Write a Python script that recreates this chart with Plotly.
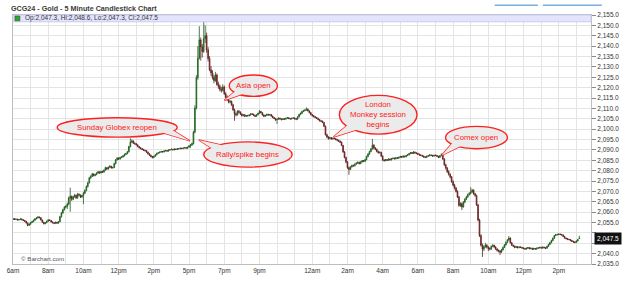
import numpy as np
import pandas as pd
import plotly.graph_objects as go

# ---------------- data (5-minute bars, GCG24) ----------------
opens = [
 2056.5,2056.8,2056.5,2056.6,2056.2,2056.4,2056.7,2056.3,2056.0,2055.6,2054.8,2053.6,
 2054.2,2055.0,2055.4,2056.1,2056.8,2057.2,2057.6,2057.3,2056.2,2055.1,2054.4,2054.9,
 2055.6,2056.2,2056.0,2055.3,2054.9,2054.6,2055.1,2054.7,2055.4,2057.8,2059.6,2061.2,
 2062.4,2062.7,2063.9,2066.8,2067.6,2066.2,2067.4,2068.1,2066.9,2068.6,2068.2,2067.3,
 2068.0,2069.1,2070.4,2072.3,2074.1,2076.5,2077.2,2078.4,2077.6,2078.1,2078.8,2079.4,
 2078.9,2079.6,2079.3,2080.2,2081.4,2080.8,2081.6,2082.1,2081.3,2081.5,2083.4,2085.2,
 2086.0,2085.6,2086.3,2086.6,2087.1,2087.8,2088.2,2089.1,2091.6,2093.8,2094.3,2093.2,
 2093.0,2092.4,2091.6,2091.0,2090.6,2090.2,2089.8,2089.6,2088.9,2088.1,2087.4,2086.8,
 2086.3,2086.9,2087.6,2088.3,2088.6,2088.9,2089.2,2089.0,2089.5,2089.7,2089.4,2089.9,
 2090.1,2090.3,2090.0,2090.4,2090.2,2090.6,2090.5,2090.8,2090.6,2090.9,2091.1,2090.8,
 2091.4,2091.8,2092.4,2093.0,2098.5,2110.2,2124.8,2134.2,2143.0,2139.6,2137.4,2143.6,
 2145.0,2138.2,2134.0,2128.6,2127.1,2125.0,2123.4,2126.1,2121.5,2120.6,2119.2,2118.7,
 2120.3,2117.1,2115.4,2114.2,2113.0,2113.3,2111.7,2109.3,2107.4,2106.9,2108.6,2108.1,
 2107.3,2106.5,2106.9,2106.2,2106.5,2106.4,2106.8,2107.3,2107.2,2106.6,2106.2,2106.9,
 2107.6,2108.5,2107.9,2106.8,2106.2,2106.6,2107.1,2106.8,2107.0,2106.3,2105.6,2105.1,
 2104.6,2104.8,2105.3,2104.9,2104.6,2105.0,2104.8,2105.2,2105.5,2105.1,2104.9,2105.2,
 2105.4,2105.0,2104.8,2105.9,2107.0,2107.6,2108.5,2108.9,2109.2,2109.6,2108.8,2107.9,
 2107.0,2106.4,2106.0,2105.6,2105.2,2104.6,2104.0,2103.8,2103.2,2101.4,2097.3,2096.2,
 2095.5,2095.9,2095.3,2095.6,2095.4,2095.0,2094.6,2094.2,2093.7,2092.1,2089.0,2086.3,
 2084.2,2081.4,2080.6,2081.8,2082.5,2082.3,2083.1,2083.6,2084.0,2083.4,2084.2,2084.8,
 2084.5,2085.3,2086.8,2088.0,2089.2,2090.4,2092.3,2090.9,2090.2,2089.2,2088.6,2088.8,
 2087.0,2085.1,2084.8,2085.3,2085.0,2085.6,2085.2,2085.8,2086.0,2085.7,2086.2,2086.0,
 2086.4,2086.8,2086.5,2087.0,2086.7,2087.3,2087.6,2088.2,2088.7,2088.3,2088.9,2088.5,
 2088.3,2087.9,2087.5,2087.3,2087.0,2086.6,2086.4,2086.9,2087.2,2087.5,2087.3,2087.0,
 2087.4,2087.3,2086.9,2086.4,2087.2,2087.8,2085.6,2082.8,2081.3,2079.5,2078.2,2077.0,
 2074.7,2073.0,2071.6,2070.0,2067.3,2063.2,2064.1,2062.5,2064.8,2066.2,2067.3,2068.4,
 2069.0,2069.7,2070.6,2068.8,2068.0,2063.5,2056.2,2048.7,2044.0,2042.2,2043.4,2044.0,
 2043.1,2042.5,2042.2,2043.5,2044.0,2043.2,2042.2,2041.6,2041.3,2040.7,2041.8,2043.0,
 2044.2,2045.4,2046.6,2047.5,2045.2,2044.0,2043.6,2043.0,2043.3,2042.9,2043.2,2043.0,
 2042.7,2042.5,2042.2,2042.6,2042.9,2042.4,2042.6,2042.1,2042.5,2042.2,2042.6,2042.8,
 2043.0,2042.7,2043.1,2042.8,2042.6,2043.5,2044.4,2045.3,2046.3,2047.4,2048.7,2049.1,
 2049.2,2049.4,2049.2,2049.0,2048.3,2047.5,2047.2,2046.9,2046.8,2046.3,2045.9,2045.6,
 2045.4,2046.1,2047.3]

highs = [
 2057.2,2057.0,2056.9,2056.8,2056.6,2057.0,2056.9,2056.5,2056.2,2055.8,2055.0,2054.6,
 2055.3,2055.8,2056.4,2057.1,2057.6,2058.1,2057.9,2057.5,2056.4,2055.3,2055.2,2055.9,
 2056.6,2056.5,2056.1,2055.5,2055.1,2055.4,2055.3,2055.7,2058.2,2060.1,2061.6,2062.9,
 2063.4,2064.6,2067.5,2071.8,2068.0,2067.9,2068.8,2068.4,2069.2,2069.0,2068.5,2068.4,
 2069.8,2071.0,2072.9,2074.6,2077.0,2077.8,2078.9,2078.6,2078.5,2079.3,2079.9,2079.6,
 2080.0,2079.9,2080.6,2081.9,2081.7,2082.0,2082.6,2082.3,2081.9,2083.8,2085.6,2086.5,
 2086.4,2086.7,2087.0,2087.5,2088.2,2088.6,2089.5,2092.0,2095.6,2095.0,2094.6,2093.6,
 2093.3,2092.7,2091.9,2091.3,2090.9,2090.5,2090.1,2089.9,2089.2,2088.4,2087.7,2087.1,
 2087.2,2087.9,2088.6,2088.9,2089.2,2089.5,2089.4,2089.8,2090.0,2089.9,2090.2,2090.4,
 2090.6,2090.5,2090.7,2090.6,2090.9,2090.8,2091.1,2091.0,2091.2,2091.4,2091.3,2091.6,
 2092.3,2092.8,2093.6,2099.2,2111.5,2126.0,2140.0,2149.6,2144.2,2141.0,2152.0,2150.0,
 2146.5,2139.5,2135.2,2130.4,2128.4,2126.2,2127.6,2126.8,2122.8,2121.5,2120.4,2121.6,
 2121.0,2117.8,2116.3,2114.8,2114.1,2113.8,2112.2,2109.9,2108.0,2109.1,2109.2,2108.6,
 2107.6,2107.2,2107.1,2106.8,2106.9,2107.1,2107.6,2107.7,2107.4,2106.9,2107.2,2107.9,
 2109.2,2108.8,2108.1,2107.1,2106.9,2107.4,2107.4,2107.3,2107.2,2106.5,2105.9,2105.4,
 2105.1,2105.6,2105.5,2105.1,2105.3,2105.2,2105.5,2105.8,2105.7,2105.3,2105.5,2105.7,
 2105.7,2105.3,2106.2,2107.4,2108.0,2108.9,2109.3,2109.6,2110.5,2109.9,2109.0,2108.2,
 2107.3,2106.8,2106.3,2105.9,2105.5,2104.9,2104.3,2104.1,2103.5,2101.7,2097.8,2096.6,
 2096.3,2096.2,2095.9,2095.9,2095.7,2095.3,2094.9,2094.5,2094.0,2092.4,2089.4,2086.7,
 2084.6,2082.0,2082.2,2082.9,2082.9,2083.5,2084.0,2084.4,2084.3,2084.6,2085.2,2085.1,
 2085.7,2087.2,2088.4,2089.6,2090.9,2095.3,2092.7,2091.3,2090.6,2089.6,2089.3,2089.1,
 2087.3,2085.5,2085.6,2085.6,2085.9,2085.9,2086.1,2086.3,2086.3,2086.5,2086.5,2086.7,
 2087.1,2087.1,2087.3,2087.2,2087.6,2087.9,2088.5,2089.0,2089.0,2089.4,2089.2,2088.8,
 2088.6,2088.2,2087.8,2087.6,2087.3,2086.9,2087.2,2087.5,2087.9,2087.8,2087.6,2087.7,
 2087.7,2087.6,2087.2,2087.5,2088.3,2088.1,2086.0,2083.3,2081.7,2080.2,2078.7,2077.4,
 2075.3,2073.6,2072.1,2070.5,2067.8,2064.8,2064.6,2065.3,2066.7,2067.8,2068.9,2069.6,
 2072.0,2071.2,2071.0,2069.3,2068.4,2064.0,2056.8,2049.3,2044.9,2044.0,2045.2,2044.6,
 2043.6,2043.0,2043.9,2044.5,2044.3,2043.6,2042.6,2042.0,2041.6,2042.3,2043.4,2044.6,
 2045.8,2047.0,2048.5,2047.8,2045.6,2044.3,2043.9,2043.7,2043.6,2043.5,2043.5,2043.2,
 2043.0,2042.8,2042.9,2043.2,2043.1,2042.9,2042.8,2042.8,2042.7,2042.9,2043.1,2043.3,
 2043.3,2043.4,2043.4,2043.1,2043.8,2044.7,2045.7,2046.7,2047.8,2049.0,2049.5,2049.6,
 2049.8,2049.7,2049.5,2049.2,2048.5,2047.8,2047.5,2047.2,2047.0,2046.6,2046.2,2045.9,
 2046.4,2047.1,2048.6]

lows = [
 2056.2,2056.3,2056.2,2056.0,2056.0,2056.2,2056.1,2055.8,2055.3,2054.5,2053.2,2053.4,
 2053.9,2054.7,2055.2,2055.9,2056.5,2057.0,2057.0,2056.0,2054.9,2054.1,2054.2,2054.7,
 2055.3,2055.7,2055.0,2054.6,2054.2,2054.4,2054.3,2054.5,2055.2,2057.4,2059.2,2060.8,
 2061.9,2061.5,2063.4,2060.2,2065.4,2065.8,2067.0,2066.3,2066.5,2067.8,2066.8,2066.9,
 2063.8,2068.7,2070.1,2071.9,2073.8,2076.1,2076.9,2077.2,2077.3,2077.8,2078.5,2078.5,
 2078.6,2078.9,2079.0,2080.0,2080.4,2080.5,2081.3,2081.0,2081.0,2081.2,2083.0,2084.9,
 2085.2,2085.3,2086.0,2086.3,2086.8,2087.5,2087.9,2088.8,2091.2,2093.3,2092.8,2092.5,
 2092.1,2091.3,2090.7,2090.3,2089.9,2089.5,2089.3,2088.6,2087.8,2087.1,2086.4,2085.9,
 2086.0,2086.7,2087.4,2088.1,2088.4,2088.7,2088.8,2088.8,2089.3,2089.1,2089.2,2089.7,
 2089.9,2089.8,2089.8,2090.0,2090.0,2090.3,2090.3,2090.4,2090.4,2090.7,2090.6,2090.6,
 2090.9,2091.0,2091.9,2092.6,2098.0,2109.5,2123.8,2133.6,2133.0,2134.5,2136.8,2141.5,
 2136.8,2132.6,2127.9,2125.6,2123.9,2122.1,2122.8,2120.9,2119.4,2118.2,2117.6,2118.1,
 2116.5,2114.8,2113.6,2112.4,2112.5,2111.2,2108.8,2104.0,2106.1,2106.5,2107.6,2106.8,
 2106.1,2106.2,2105.8,2105.9,2106.1,2106.2,2106.5,2106.9,2106.3,2105.8,2106.0,2106.7,
 2107.3,2107.6,2106.5,2105.8,2105.9,2106.3,2106.5,2106.5,2106.0,2105.3,2104.8,2103.9,
 2102.5,2104.5,2104.6,2104.2,2104.4,2104.5,2104.6,2105.0,2104.8,2104.6,2104.7,2105.0,
 2104.7,2104.3,2104.6,2105.6,2106.7,2107.3,2108.2,2108.6,2108.9,2108.5,2107.6,2106.7,
 2106.1,2105.7,2105.3,2104.9,2104.3,2103.7,2103.4,2102.9,2101.0,2096.9,2095.6,2094.9,
 2095.1,2094.9,2095.0,2095.1,2094.6,2094.2,2093.8,2093.3,2091.8,2088.6,2085.9,2083.5,
 2080.9,2078.0,2080.3,2081.5,2081.9,2082.0,2082.8,2083.3,2083.0,2083.1,2083.9,2084.1,
 2084.2,2085.0,2086.5,2087.7,2088.9,2090.1,2090.4,2089.9,2088.8,2088.2,2088.3,2086.6,
 2084.7,2084.4,2084.5,2084.7,2084.7,2084.9,2084.9,2085.5,2085.4,2085.4,2085.7,2085.7,
 2086.1,2086.2,2086.2,2086.4,2086.4,2087.0,2087.3,2087.9,2088.0,2088.0,2088.2,2087.9,
 2087.6,2087.2,2087.0,2086.7,2086.2,2086.0,2086.1,2086.6,2086.9,2087.0,2086.7,2086.7,
 2087.0,2086.6,2086.0,2086.2,2086.9,2085.2,2082.3,2080.5,2078.9,2077.6,2076.2,2074.1,
 2072.4,2070.9,2069.4,2066.8,2062.6,2062.5,2061.0,2062.2,2064.3,2065.8,2066.9,2068.0,
 2068.6,2069.3,2068.3,2067.4,2063.0,2055.6,2048.0,2043.4,2038.4,2041.2,2042.8,2042.5,
 2041.2,2041.6,2041.8,2043.1,2042.8,2041.8,2041.0,2040.6,2039.3,2040.3,2041.5,2042.7,
 2043.9,2045.1,2046.2,2044.9,2043.7,2043.3,2042.6,2042.8,2042.5,2042.6,2042.7,2042.3,
 2042.1,2041.9,2041.9,2042.3,2042.1,2042.1,2041.8,2041.9,2041.9,2041.9,2042.3,2042.5,
 2042.4,2042.4,2042.5,2042.2,2042.4,2043.2,2044.1,2045.0,2046.0,2047.1,2048.4,2048.8,
 2048.9,2048.9,2048.7,2048.0,2047.2,2046.9,2046.5,2046.4,2046.0,2045.6,2045.2,2045.0,
 2045.1,2045.9,2047.3]

closes = [
 2056.8,2056.5,2056.6,2056.2,2056.4,2056.7,2056.3,2056.0,2055.6,2054.8,2053.6,2054.2,
 2055.0,2055.4,2056.1,2056.8,2057.2,2057.6,2057.3,2056.2,2055.1,2054.4,2054.9,2055.6,
 2056.2,2056.0,2055.3,2054.9,2054.6,2055.1,2054.7,2055.4,2057.8,2059.6,2061.2,2062.4,
 2062.7,2063.9,2066.8,2067.6,2066.2,2067.4,2068.1,2066.9,2068.6,2068.2,2067.3,2068.0,
 2069.1,2070.4,2072.3,2074.1,2076.5,2077.2,2078.4,2077.6,2078.1,2078.8,2079.4,2078.9,
 2079.6,2079.3,2080.2,2081.4,2080.8,2081.6,2082.1,2081.3,2081.5,2083.4,2085.2,2086.0,
 2085.6,2086.3,2086.6,2087.1,2087.8,2088.2,2089.1,2091.6,2093.8,2094.3,2093.2,2093.0,
 2092.4,2091.6,2091.0,2090.6,2090.2,2089.8,2089.6,2088.9,2088.1,2087.4,2086.8,2086.3,
 2086.9,2087.6,2088.3,2088.6,2088.9,2089.2,2089.0,2089.5,2089.7,2089.4,2089.9,2090.1,
 2090.3,2090.0,2090.4,2090.2,2090.6,2090.5,2090.8,2090.6,2090.9,2091.1,2090.8,2091.2,
 2091.8,2092.4,2093.0,2098.5,2110.2,2124.8,2134.2,2143.0,2139.6,2137.4,2143.6,2145.0,
 2138.2,2134.0,2128.6,2127.1,2125.0,2123.4,2126.1,2121.5,2120.6,2119.2,2118.7,2120.3,
 2117.1,2115.4,2114.2,2113.0,2113.3,2111.7,2109.3,2107.4,2106.9,2108.6,2108.1,2107.3,
 2106.5,2106.9,2106.2,2106.5,2106.4,2106.8,2107.3,2107.2,2106.6,2106.2,2106.9,2107.6,
 2108.5,2107.9,2106.8,2106.2,2106.6,2107.1,2106.8,2107.0,2106.3,2105.6,2105.1,2104.6,
 2104.8,2105.3,2104.9,2104.6,2105.0,2104.8,2105.2,2105.5,2105.1,2104.9,2105.2,2105.4,
 2105.0,2104.8,2105.9,2107.0,2107.6,2108.5,2108.9,2109.2,2109.6,2108.8,2107.9,2107.0,
 2106.4,2106.0,2105.6,2105.2,2104.6,2104.0,2103.8,2103.2,2101.4,2097.3,2096.2,2095.5,
 2095.9,2095.3,2095.6,2095.4,2095.0,2094.6,2094.2,2093.7,2092.1,2089.0,2086.3,2084.2,
 2081.4,2080.6,2081.8,2082.5,2082.3,2083.1,2083.6,2084.0,2083.4,2084.2,2084.8,2084.5,
 2085.3,2086.8,2088.0,2089.2,2090.4,2092.3,2090.9,2090.2,2089.2,2088.6,2088.8,2087.0,
 2085.1,2084.8,2085.3,2085.0,2085.6,2085.2,2085.8,2086.0,2085.7,2086.2,2086.0,2086.4,
 2086.8,2086.5,2087.0,2086.7,2087.3,2087.6,2088.2,2088.7,2088.3,2088.9,2088.5,2088.3,
 2087.9,2087.5,2087.3,2087.0,2086.6,2086.4,2086.9,2087.2,2087.5,2087.3,2087.0,2087.4,
 2087.3,2086.9,2086.4,2087.2,2087.8,2085.6,2082.8,2081.3,2079.5,2078.2,2077.0,2074.7,
 2073.0,2071.6,2070.0,2067.3,2063.2,2064.1,2062.5,2064.8,2066.2,2067.3,2068.4,2069.0,
 2069.7,2070.6,2068.8,2068.0,2063.5,2056.2,2048.7,2044.0,2042.2,2043.4,2044.0,2043.1,
 2042.5,2042.2,2043.5,2044.0,2043.2,2042.2,2041.6,2041.3,2040.7,2041.8,2043.0,2044.2,
 2045.4,2046.6,2047.5,2045.2,2044.0,2043.6,2043.0,2043.3,2042.9,2043.2,2043.0,2042.7,
 2042.5,2042.2,2042.6,2042.9,2042.4,2042.6,2042.1,2042.5,2042.2,2042.6,2042.8,2043.0,
 2042.7,2043.1,2042.8,2042.6,2043.5,2044.4,2045.3,2046.3,2047.4,2048.7,2049.1,2049.2,
 2049.4,2049.2,2049.0,2048.3,2047.5,2047.2,2046.9,2046.8,2046.3,2045.9,2045.6,2045.4,
 2046.1,2046.8,2047.5]

# session timeline: Friday 06:00-15:55, then Sunday 17:00 onward (5-min bars)
friday = pd.date_range("2023-12-01 06:00", periods=120, freq="5min")
sunday = pd.date_range("2023-12-03 17:00", periods=len(closes) - 120, freq="5min")
times = friday.append(sunday)

tick_times = ["2023-12-01 06:00", "2023-12-01 08:00", "2023-12-01 10:00", "2023-12-01 12:00",
              "2023-12-01 14:00", "2023-12-03 17:00", "2023-12-03 19:00", "2023-12-03 21:00",
              "2023-12-04 00:00", "2023-12-04 02:00", "2023-12-04 04:00", "2023-12-04 06:00",
              "2023-12-04 08:00", "2023-12-04 10:00", "2023-12-04 12:00", "2023-12-04 14:00"]
tick_labels = ["6am", "8am", "10am", "12pm", "2pm", "5pm", "7pm", "9pm",
               "12am", "2am", "4am", "6am", "8am", "10am", "12pm", "2pm"]

price_ticks = list(range(2035, 2156, 5))

callouts = [
    "Sunday Globex reopen",
    "Rally/spike begins",
    "Asia open",
    "London<br>Monkey session<br>begins",
    "Comex open",
]

x_idx = np.arange(len(closes))
tickvals = [int(times.get_loc(pd.Timestamp(t))) for t in tick_times]

# ---------------- geometry helpers ----------------
W_, H_ = 626, 282
ML, MR, MT, MB = 7, 31, 15, 10
PW, PH = W_ - ML - MR, H_ - MT - MB

def fx(px):
    return (px - ML) / PW

def fy(py):
    return (H_ - MB - py) / PH

RED = "#ff2020"
FONT = "Liberation Sans, Arial, sans-serif"

last = closes[-1]
# y tick labels: the ones hidden behind the last-price tag are left blank
ytext = ["" if abs(v - last) < 4 else f"{v:,.1f}" for v in price_ticks]

fig = go.Figure()
fig.add_trace(go.Candlestick(
    x=x_idx, open=opens, high=highs, low=lows, close=closes,
    increasing=dict(line=dict(color="#1d5a1d", width=0.8), fillcolor="#22a822"),
    decreasing=dict(line=dict(color="#5a1e1e", width=0.8), fillcolor="#d02020"),
    whiskerwidth=0, hoverinfo="skip", showlegend=False,
))

shapes = []
annotations = []

# legend band at top of plot
shapes.append(dict(type="rect", xref="paper", yref="paper", x0=0, x1=1,
                   y0=fy(22), y1=fy(15), fillcolor="#e4e4ff",
                   line=dict(color="#c9c9ef", width=1), layer="above"))
shapes.append(dict(type="rect", xref="paper", yref="paper", x0=fx(9), x1=fx(14),
                   y0=fy(21), y1=fy(16), fillcolor="#22b022",
                   line=dict(color="#444", width=0.6), layer="above"))
annotations.append(dict(xref="paper", yref="paper", x=fx(17), y=fy(18.5),
                        xanchor="left", yanchor="middle", showarrow=False,
                        text="Op:2,047.3, Hi:2,048.6, Lo:2,047.3, Cl:2,047.5",
                        font=dict(size=6.5, color="#333", family=FONT)))

# top-right toolbar lines
for a, b in [(497, 541), (546, 606)]:
    shapes.append(dict(type="line", xref="paper", yref="paper", x0=fx(a), x1=fx(b),
                       y0=fy(5), y1=fy(5), line=dict(color="#7aaee0", width=1.5)))

# title
annotations.append(dict(xref="paper", yref="paper", x=fx(3), y=fy(8),
                        xanchor="left", yanchor="middle", showarrow=False,
                        text="<b>GCG24 - Gold - 5 Minute Candlestick Chart</b>",
                        font=dict(size=7.2, color="#3a3a3a", family=FONT)))

# copyright
annotations.append(dict(xref="paper", yref="paper", x=fx(13), y=fy(266),
                        xanchor="left", yanchor="middle", showarrow=False,
                        text="© Barchart.com",
                        font=dict(size=6.2, color="#555", family=FONT)))

# last price tag
annotations.append(dict(xref="paper", yref="y", x=1, y=last, xshift=3,
                        xanchor="left", yanchor="middle", showarrow=False,
                        text=f"{last:,.1f}", bgcolor="#111", borderpad=2,
                        font=dict(size=6.5, color="white", family=FONT)))

# speech bubbles (pixel geometry): ellipse box, tail base1, tail base2, tail tip
bubble_geom = [
    ((52, 121, 174, 141), (158, 136), (168, 133), (187, 145)),
    ((201, 146, 291, 172), (210, 153), (222, 150), (196, 144)),
    ((227, 77, 276, 99), (234, 93), (242, 96), (222, 103)),
    ((339, 98, 418, 138), (348, 128), (358, 133), (333, 141)),
    ((447, 130, 510, 153), (454, 147), (463, 150), (443, 160)),
]
FILL = "#ebebeb"
for label, (box, b1, b2, tip) in zip(callouts, bubble_geom):
    path = (f"M {fx(b1[0])} {fy(b1[1])} L {fx(tip[0])} {fy(tip[1])} "
            f"L {fx(b2[0])} {fy(b2[1])}")
    shapes.append(dict(type="path", xref="paper", yref="paper", path=path,
                       fillcolor=FILL, line=dict(color=RED, width=1.4), layer="above"))
    shapes.append(dict(type="circle", xref="paper", yref="paper",
                       x0=fx(box[0]), x1=fx(box[2]), y0=fy(box[3]), y1=fy(box[1]),
                       fillcolor=FILL, line=dict(color=RED, width=1.4), layer="above"))
    shapes.append(dict(type="path", xref="paper", yref="paper", path=path,
                       fillcolor=FILL, line=dict(width=0), layer="above"))
    annotations.append(dict(xref="paper", yref="paper",
                            x=fx((box[0] + box[2]) / 2), y=fy((box[1] + box[3]) / 2),
                            xanchor="center", yanchor="middle", showarrow=False,
                            text=label, align="center",
                            font=dict(size=7.8, color=RED, family=FONT)))

fig.update_layout(
    width=W_, height=H_,
    margin=dict(l=ML, r=MR, t=MT, b=MB, pad=0),
    paper_bgcolor="white", plot_bgcolor="white",
    font=dict(family=FONT, size=7, color="#333"),
    showlegend=False,
    shapes=shapes, annotations=annotations,
    xaxis=dict(
        range=[0, 394], rangeslider=dict(visible=False),
        tickmode="array", tickvals=tickvals, ticktext=tick_labels,
        tickfont=dict(size=6.5, color="#333"), ticks="", ticklen=0,
        showgrid=True, gridcolor="#e4e4e4", gridwidth=1,
        minor=dict(tickmode="linear", tick0=0, dtick=12, showgrid=True,
                   gridcolor="#e4e4e4", gridwidth=1),
        showline=True, linecolor="#bdbdbd", linewidth=1, mirror=True,
        zeroline=False, fixedrange=True,
    ),
    yaxis=dict(
        side="right", range=[2035, 2155],
        tickmode="array", tickvals=price_ticks, ticktext=ytext,
        tickfont=dict(size=6.5, color="#333"),
        ticks="outside", ticklen=4, tickcolor="#8a8a8a",
        showgrid=True, gridcolor="#e4e4e4", gridwidth=1,
        showline=True, linecolor="#bdbdbd", linewidth=1, mirror=True,
        zeroline=False, fixedrange=True,
    ),
)

fig.write_html("out.html")
